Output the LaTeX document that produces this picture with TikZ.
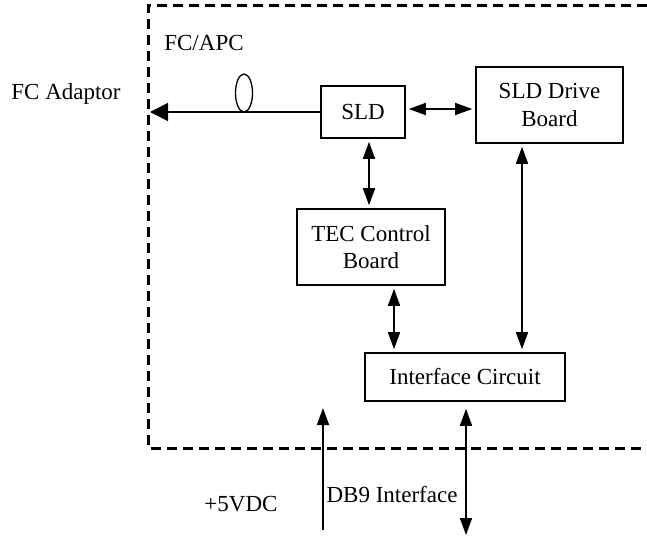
\documentclass[tikz,border=0pt]{standalone}
\usepackage{fontspec}
\setmainfont{Liberation Serif}
\usetikzlibrary{arrows.meta,shapes.geometric}
\begin{document}
\begin{tikzpicture}[x=1pt,y=-1pt,
  every node/.style={font=\fontsize{23}{27.5}\selectfont, inner sep=0pt},
  block/.style={draw, line width=1.6pt, align=center},
  link/.style={line width=1.7pt, {Triangle[length=17pt,width=12pt]}-{Triangle[length=17pt,width=12pt]}, shorten <=3pt, shorten >=3pt},
  oneway/.style={line width=1.7pt, -{Triangle[length=17pt,width=12pt]}},
  housing/.style={line width=3pt, dash pattern=on 10pt off 6pt}
]
\useasboundingbox (0,0) rectangle (647,535);

% module housing (dashed outline, open on the right)
\draw[housing] (647,6) -- (148,6) -- (148,448) -- (647,448);

% function blocks
\node[block, minimum width=84pt, minimum height=52pt] (sld) at (363,112) {SLD};
\node[block, minimum width=147pt, minimum height=76pt] (drive) at (549.5,105) {SLD Drive\\Board};
\node[block, minimum width=148pt, minimum height=76pt] (tec) at (371,247) {TEC Control\\Board};
\node[block, minimum width=200pt, minimum height=48pt] (ifc) at (465,377) {Interface Circuit};

% fibre pigtail with coil mark
\node[draw, line width=1.3pt, ellipse, minimum width=17pt, minimum height=38pt] (coil) at (244,93) {};
\coordinate (fcout) at (150,112);
\draw[line width=1.7pt, -{Triangle[length=18pt,width=18pt]}] (sld.west) -- (fcout);

% labels
\node (fcapc) at (204,43) {FC/APC};
\node (fcadp) at (66,94) {FC Adaptor};
\node (pwr) at (241,504) {+5VDC};
\node (db9) at (392,495) {DB9 Interface};

% internal links
\draw[link] ([yshift=3pt]sld.east) -- ([yshift=3pt]sld.east -| drive.west);
\draw[link] ([xshift=6pt]sld.south) -- ([xshift=6pt]sld.south |- tec.north);
\draw[link] ([xshift=23pt]tec.south) -- ([xshift=23pt]tec.south |- ifc.north);
\draw[link] ([xshift=-27.5pt]drive.south) -- ([xshift=-27.5pt]drive.south |- ifc.north);

% external connections
\coordinate (pwrin) at (323,530);
\coordinate (pwrtip) at (323,408);
\draw[oneway] (pwrin) -- (pwrtip);
\coordinate (db9end) at (466,535);
\draw[link, shorten >=0pt, shorten <=7pt] (ifc.south -| db9end) -- (db9end);
\end{tikzpicture}
\end{document}
